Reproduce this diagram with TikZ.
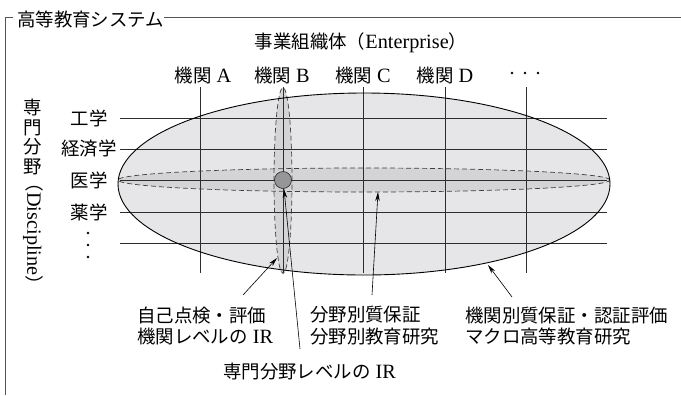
\documentclass[tikz,border=0pt]{standalone}
\usepackage{fontspec}
\setmainfont[Scale=1.1]{Liberation Serif}
\newfontfamily\cjk{Noto Sans CJK JP}
\usetikzlibrary{arrows.meta}
\definecolor{bigfill}{RGB}{230,230,232}
\definecolor{bandfill}{RGB}{212,212,214}
\definecolor{dotfill}{RGB}{150,150,152}
\definecolor{gridc}{RGB}{45,45,45}
\definecolor{framec}{RGB}{85,85,85}
\begin{document}
\begin{tikzpicture}[x=1bp,y=-1bp,
  lbl/.style={font=\fontsize{18.5}{22}\selectfont, inner sep=0pt},
  gridline/.style={draw=gridc, line width=0.8bp},
  dashline/.style={draw=black!75, line width=0.7bp, dash pattern=on 5bp off 3bp},
  arr/.style={draw=black, line width=0.6bp, -{Stealth[length=9bp,width=4.5bp]}},
  framel/.style={draw=framec, line width=0.9bp}]
\useasboundingbox (0,0) rectangle (681,395);
% frame and title
\node[lbl,anchor=west] (title) at (17,19) {\cjk 高等教育システム};
\coordinate (fTL) at (5,17);
\coordinate (fTS) at (13,17);
\coordinate (fBL) at (5,395);
\coordinate (fTR) at (681,17);
\draw[framel] (fTS) -- (fTL) -- (fBL);
\draw[framel] (title.east |- fTR) -- (fTR);
% top labels
\node[lbl] (ent) at (361,43) {{\cjk 事業組織体（}Enterprise{\cjk ）}};
\node[lbl] (cA) at (203,76) {{\cjk 機関} A};
\node[lbl] (cB) at (282,76) {{\cjk 機関} B};
\node[lbl] (cC) at (363,76) {{\cjk 機関} C};
\node[lbl] (cD) at (445,76) {{\cjk 機関} D};
\foreach \x in {512,525,538} \fill (\x,73) circle (1.3bp);
% side labels
\node[lbl,align=center,font=\fontsize{18.5}{19.5}\selectfont\cjk] (disc) at (33,137) {専\\門\\分\\野};
\node[lbl,rotate=-90] (discE) at (33,234) {{\cjk （}Discipline{\cjk ）}};
\node[lbl] (r1) at (89,118) {\cjk 工学};
\node[lbl] (r2) at (89,149) {\cjk 経済学};
\node[lbl] (r3) at (89,180) {\cjk 医学};
\node[lbl] (r4) at (89,212) {\cjk 薬学};
\foreach \y in {233,245,257} \fill (88,\y) circle (1.3bp);
% ellipse fills
\fill[bigfill] (364,184) ellipse [x radius=246bp, y radius=91bp];
\fill[bandfill] (364,180) ellipse [x radius=246bp, y radius=12bp];
\fill[bandfill] (283,180.5) ellipse [x radius=9bp, y radius=93bp];
% grid
\foreach \y in {118,149,180,212,243} \draw[gridline] (120,\y) -- (607,\y);
\foreach \x in {200,283,363,445,526} \draw[gridline] (\x,87) -- (\x,273);
% dashed outlines
\draw[dashline] (364,180) ellipse [x radius=246bp, y radius=12bp];
\draw[dashline] (283,180.5) ellipse [x radius=9bp, y radius=93bp];
\node[circle,draw=black!80,fill=dotfill,minimum size=17bp,inner sep=0pt,line width=0.7bp] (dot) at (283,180) {};
\draw[black,line width=0.9bp] (364,184) ellipse [x radius=246bp, y radius=91bp];
% annotations
\node[lbl,align=left,anchor=west] (a1) at (137,326) {{\cjk 自己点検・評価}\\{\cjk 機関レベルの} IR};
\node[lbl,align=left,anchor=west] (a2) at (310,326) {{\cjk 分野別質保証}\\{\cjk 分野別教育研究}};
\node[lbl,align=left,anchor=west] (a3) at (465,326) {{\cjk 機関別質保証・認証評価}\\{\cjk マクロ高等教育研究}};
\node[lbl,anchor=west] (a4) at (223,372) {{\cjk 専門分野レベルの} IR};
\coordinate (s1) at (243,295);
\coordinate (e1) at (277,258);
\coordinate (s2) at (372,295);
\coordinate (e2) at (378,192);
\coordinate (s3) at (512,297);
\coordinate (e3) at (488,265);
\coordinate (s4) at (300,349);
\coordinate (e4) at (284,189);
\draw[arr] (s1) -- (e1);
\draw[arr] (s2) -- (e2);
\draw[arr] (s3) -- (e3);
\draw[arr] (s4) -- (e4);
\end{tikzpicture}
\end{document}
